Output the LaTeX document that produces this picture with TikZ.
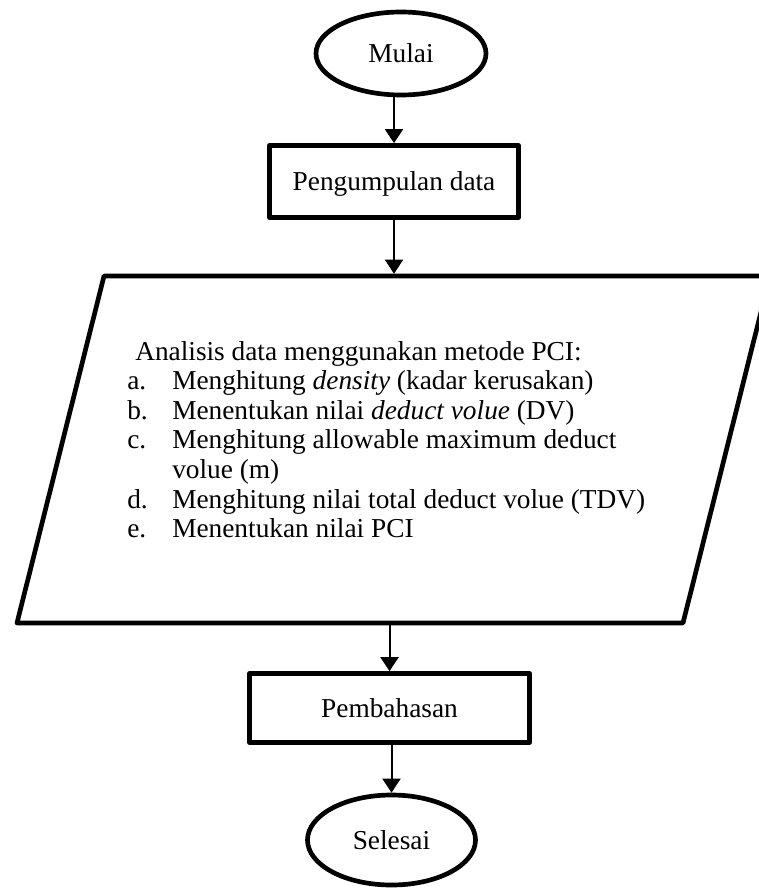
\documentclass[tikz,border=0pt]{standalone}
\usepackage{fontspec}
\setmainfont{Liberation Serif}
\usetikzlibrary{shapes.geometric}
\usetikzlibrary{arrows.meta}

\tikzset{
  terminal/.style={ellipse, draw, line width=3.5pt, inner sep=0pt, text depth=0pt},
  proses/.style={rectangle, draw, line width=3.5pt, inner sep=0pt, line join=round, text depth=0pt},
  garis/.style={line width=3.5pt, line join=round},
  panah/.style={line width=1.5pt, -{Triangle[length=10.5pt,width=13.5pt]}}
}

\begin{document}
\begin{tikzpicture}[x=0.75pt,y=-0.75pt, font=\fontsize{20.5}{22.2}\selectfont]
	\useasboundingbox (0,0) rectangle (759,891);
	\clip (0,0) rectangle (759,891);
	
	%bentuk
	\node[terminal, minimum width=127.5pt, minimum height=62.25pt] (mulai) at (401,53.5) {Mulai};
	\node[proses, minimum width=186.75pt, minimum height=54pt] (kumpul) at (394,181.5) {Pengumpulan data};
	\draw[garis] (17,623) -- (104,276) -- (770,276) -- (683,623) -- cycle;
	\coordinate (analisisatas) at (393.5,273.7);
	\coordinate (analisisbawah) at (393.5,625.3);
	\node[proses, minimum width=210pt, minimum height=51.75pt] (bahas) at (389.5,708) {Pembahasan};
	\node[terminal, minimum width=126pt, minimum height=67.5pt] (selesai) at (391.5,840) {Selesai};
	
	%teks
	\node[anchor=base west, inner sep=0pt] (langkah) at (127,360) {%
		\begin{tabular}[t]{@{}p{33.75pt}@{}l@{}}
			\multicolumn{2}{@{}l@{}}{\hspace{6pt}Analisis data menggunakan metode PCI:}\\
			a. & Menghitung \textit{density} (kadar kerusakan)\\
			b. & Menentukan nilai \textit{deduct volue} (DV)\\
			c. & Menghitung allowable maximum deduct\\
			   & volue (m)\\
			d. & Menghitung nilai total deduct volue (TDV)\\
			e. & Menentukan nilai PCI
		\end{tabular}};
	
	%panah
	\draw[panah] (mulai.south -| kumpul.north) -- (kumpul.north);
	\draw[panah] (kumpul.south) -- (kumpul.south |- analisisatas);
	\draw[panah] (bahas.north |- analisisbawah) -- (bahas.north);
	\draw[panah] (bahas.south -| selesai.north) -- (selesai.north);
	
\end{tikzpicture}
\end{document}
